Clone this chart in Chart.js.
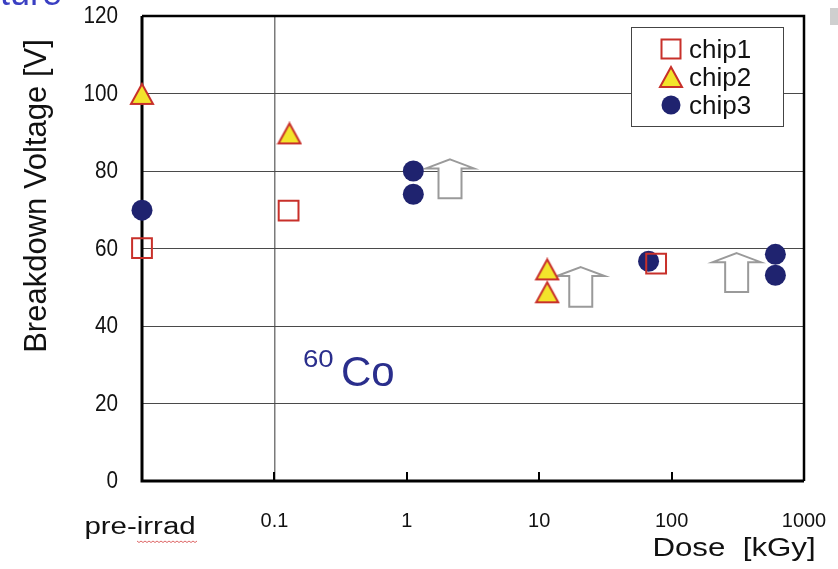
<!DOCTYPE html>
<html>
<head>
<meta charset="utf-8">
<script src="https://cdn.jsdelivr.net/npm/chart.js@4.4.0/dist/chart.umd.min.js"></script>
<style>
  html, body { margin: 0; padding: 0; background: #fff; overflow: hidden; }
  #wrap { position: relative; width: 838px; height: 569px; }
</style>
</head>
<body>
<div id="wrap"><canvas id="c" width="838" height="569"></canvas></div>
<script>
// --- datos ---
const xTicks = [0.01, 0.1, 1, 10, 100, 1000];
const xTickLabels = ['pre-irrad', '0.1', '1', '10', '100', '1000'];
const yTicks = [0, 20, 40, 60, 80, 100, 120];
const chip1X = [0.01, 0.128, 76.4];
const chip1Y = [60.1, 69.8, 56.1];
const chip2X = [0.01, 0.13, 11.5, 11.5];
const chip2Y = [99.9, 89.7, 54.6, 48.7];
const chip3X = [0.01, 1.12, 1.12, 67, 608, 608];
const chip3Y = [69.9, 80.0, 74.0, 56.7, 58.5, 53.1];
// flechas huecas (dosis, voltaje arriba, voltaje abajo)
const arrowX = [2.12, 20.6, 310];
const arrowTop = [83.0, 55.2, 58.8];
const arrowBottom = [73.0, 45.0, 48.8];

const FONT = "'Liberation Sans', Arial, sans-serif";
const RED = '#c8302a';
const YELLOW = '#f3e42b';
const NAVY = '#1f236f';

function zip(xs, ys) { return xs.map((v, i) => ({ x: v, y: ys[i] })); }

// triangulo centrado en su caja (como en el original)
function triangleCanvas(w, h) {
    const c = document.createElement('canvas');
    c.width = w + 4; c.height = h + 4;
    const g = c.getContext('2d');
    g.beginPath();
    g.moveTo(c.width / 2, 2);
    g.lineTo(c.width - 2, h + 2);
    g.lineTo(2, h + 2);
    g.closePath();
    g.fillStyle = YELLOW; g.fill();
    g.lineWidth = 2; g.strokeStyle = RED; g.lineJoin = 'miter'; g.stroke();
    return c;
}
const tri = triangleCanvas(22, 20);

function txt(ctx, s, x, y, font, color, align, sx, base) {
    ctx.save();
    ctx.translate(x, y);
    ctx.scale(sx || 1, 1);
    ctx.font = font;
    ctx.fillStyle = color;
    ctx.textAlign = align || 'left';
    ctx.textBaseline = base || 'alphabetic';
    ctx.fillText(s, 0, 0);
    ctx.restore();
}

const decor = {
    id: 'decor',
    beforeDatasetsDraw(chart) {
        const { ctx, chartArea: a, scales: { x, y } } = chart;
        ctx.save();

        // marco
        ctx.strokeStyle = '#000';
        ctx.lineWidth = 2.5;
        ctx.beginPath();
        ctx.moveTo(a.left, a.top); ctx.lineTo(a.right, a.top); ctx.lineTo(a.right, a.bottom);
        ctx.stroke();
        ctx.lineWidth = 3;
        ctx.beginPath();
        ctx.moveTo(a.left, a.top); ctx.lineTo(a.left, a.bottom); ctx.lineTo(a.right, a.bottom);
        ctx.stroke();

        // marcas en el eje x
        ctx.lineWidth = 2;
        xTicks.slice(1, -1).forEach(v => {
            const px = Math.round(x.getPixelForValue(v));
            ctx.beginPath(); ctx.moveTo(px, a.bottom); ctx.lineTo(px, a.bottom - 9); ctx.stroke();
        });

        // etiquetas y
        yTicks.forEach(v => {
            txt(ctx, String(v), a.left - 24, y.getPixelForValue(v) + 1, '23px ' + FONT, '#111', 'right', 0.9, 'middle');
        });

        // etiquetas x
        xTicks.forEach((v, i) => {
            const px = x.getPixelForValue(v);
            if (i === 0) {
                txt(ctx, xTickLabels[i], px - 2, 534, '23px ' + FONT, '#111', 'center', 1.28);
            } else {
                txt(ctx, xTickLabels[i], px, 527, '21px ' + FONT, '#111', 'center', 0.95);
            }
        });
        // subrayado ondulado del corrector
        ctx.strokeStyle = '#d66';
        ctx.lineWidth = 1;
        ctx.beginPath();
        for (let px = 137; px <= 197; px += 2) {
            const py = 541 + ((px - 137) % 4 === 0 ? 0 : 1.5);
            if (px === 137) ctx.moveTo(px, py); else ctx.lineTo(px, py);
        }
        ctx.stroke();

        txt(ctx, 'Dose  [kGy]', 734, 556, '25px ' + FONT, '#111', 'center', 1.25);

        // titulo eje y
        ctx.save();
        ctx.translate(46, 196);
        ctx.rotate(-Math.PI / 2);
        txt(ctx, 'Breakdown Voltage [V]', 0, 0, '31px ' + FONT, '#111', 'center', 1);
        ctx.restore();

        // flechas
        ctx.strokeStyle = '#9a9a9a';
        ctx.fillStyle = '#fff';
        ctx.lineWidth = 2;
        arrowX.forEach((v, i) => {
            const cx = x.getPixelForValue(v);
            const t = y.getPixelForValue(arrowTop[i]);
            const b = y.getPixelForValue(arrowBottom[i]);
            const hw = 24, sw = 11.5, hh = 9;
            ctx.beginPath();
            ctx.moveTo(cx, t);
            ctx.lineTo(cx + hw, t + hh);
            ctx.lineTo(cx + sw, t + hh);
            ctx.lineTo(cx + sw, b);
            ctx.lineTo(cx - sw, b);
            ctx.lineTo(cx - sw, t + hh);
            ctx.lineTo(cx - hw, t + hh);
            ctx.closePath();
            ctx.fill(); ctx.stroke();
        });

        // leyenda
        ctx.fillStyle = '#fff';
        ctx.fillRect(631, 27, 152, 99);
        ctx.strokeStyle = '#444';
        ctx.lineWidth = 1;
        ctx.strokeRect(631.5, 27.5, 152, 99);
        const rows = [49, 77, 105];
        ctx.strokeStyle = RED; ctx.lineWidth = 2;
        ctx.strokeRect(661.5, rows[0] - 9.5, 19, 19);
        ctx.drawImage(tri, 671 - tri.width / 2, rows[1] - tri.height / 2);
        ctx.fillStyle = NAVY;
        ctx.beginPath(); ctx.arc(671, rows[2], 9.5, 0, Math.PI * 2); ctx.fill();
        ['chip1', 'chip2', 'chip3'].forEach((s, i) => txt(ctx, s, 689, rows[i] + 9, '26px ' + FONT, '#111', 'left', 1));

        // 60Co
        txt(ctx, '60', 303, 367, '23px ' + FONT, '#2a2e8c', 'left', 1.2);
        txt(ctx, 'Co', 341, 386, '42px ' + FONT, '#2a2e8c', 'left', 1);

        // restos de la diapositiva
        txt(ctx, 'ture', 0, 5, '36px ' + FONT, '#3a3fc2', 'left', 1);
        ctx.fillStyle = '#cfcfcf';
        ctx.fillRect(830, 8, 8, 17);

        ctx.restore();
    }
};

new Chart(document.getElementById('c'), {
    type: 'scatter',
    data: {
        datasets: [
            { label: 'chip1', data: zip(chip1X, chip1Y), pointStyle: 'rect', pointRadius: 14, borderWidth: 2,
              borderColor: RED, backgroundColor: 'rgba(0,0,0,0)', clip: false },
            { label: 'chip2', data: zip(chip2X, chip2Y), pointStyle: tri, clip: false },
            { label: 'chip3', data: zip(chip3X, chip3Y), pointStyle: 'circle', pointRadius: 10.5, borderWidth: 0,
              borderColor: NAVY, backgroundColor: NAVY, clip: false }
        ]
    },
    options: {
        responsive: false,
        animation: false,
        layout: { padding: { left: 0, top: 14, right: 34, bottom: 0 } },
        plugins: { legend: { display: false }, tooltip: { enabled: false } },
        elements: { point: { hoverRadius: 14 } },
        scales: {
            x: {
                type: 'logarithmic',
                min: 0.01, max: 1000,
                afterBuildTicks: s => { s.ticks = xTicks.map(v => ({ value: v })); },
                afterFit: s => { s.height = 88; },
                ticks: { display: false },
                border: { display: false },
                grid: {
                    drawTicks: false,
                    color: c => (c.tick && c.tick.value === 0.1 ? '#7a7a7a' : 'rgba(0,0,0,0)'),
                    lineWidth: 1.5
                }
            },
            y: {
                min: 0, max: 120,
                afterBuildTicks: s => { s.ticks = yTicks.map(v => ({ value: v })); },
                afterFit: s => { s.width = 142; },
                ticks: { display: false },
                border: { display: false },
                grid: { drawTicks: false, color: '#4a4a4a', lineWidth: 1 }
            }
        }
    },
    plugins: [decor]
});
</script>
</body>
</html>
